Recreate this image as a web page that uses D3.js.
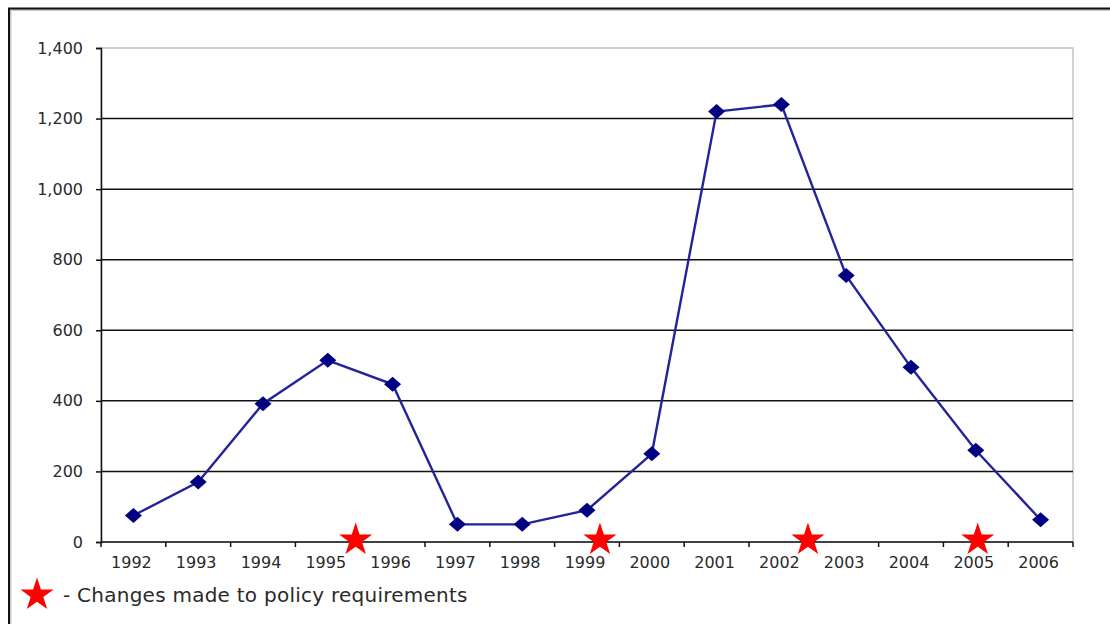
<!DOCTYPE html>
<html>
<head>
<meta charset="utf-8">
<script src="https://cdn.jsdelivr.net/npm/d3@7"></script>
<style>
  html, body { margin: 0; padding: 0; background: #fff; }
  svg { display: block; }
  text { font-family: "DejaVu Sans", Verdana, sans-serif; fill: #2a2a2a; }
</style>
</head>
<body>
<svg id="chart" width="1110" height="624"></svg>
<script>
// Yearly counts
const years = ["1992","1993","1994","1995","1996","1997","1998","1999","2000","2001","2002","2003","2004","2005","2006"];
const counts = [75, 170, 392, 515, 447, 50, 50, 90, 250, 1220, 1240, 755, 495, 260, 63];

// Policy requirement changes (fractional year)
const policyChanges = [1995.43, 1999.2, 2002.41, 2005.03];

// Value axis ticks
const yTicks = [0, 200, 400, 600, 800, 1000, 1200, 1400];

const legendText = "- Changes made to policy requirements";

const svg = d3.select("#chart");
const plot = { left: 101, right: 1073, top: 48, bottom: 542 };

// Outer frame (top and left edges visible)
svg.append("path")
  .attr("d", "M9,624 V8.5 H1110")
  .attr("fill", "none")
  .attr("stroke", "#c8c8c8")
  .attr("stroke-width", 3)
  .attr("transform", "translate(1,1)");
svg.append("path")
  .attr("d", "M9,624 V8.5 H1110")
  .attr("fill", "none")
  .attr("stroke", "#111")
  .attr("stroke-width", 2);

const x = d3.scaleBand().domain(years).range([plot.left, plot.right]).padding(0);
const xYear = d3.scaleLinear()
  .domain([+years[0] - 0.5, +years[years.length - 1] + 0.5])
  .range([plot.left, plot.right]);
const y = d3.scaleLinear().domain([0, 1400]).range([plot.bottom, plot.top]);

// Plot area border (grey)
svg.append("rect")
  .attr("x", plot.left).attr("y", plot.top)
  .attr("width", plot.right - plot.left).attr("height", plot.bottom - plot.top)
  .attr("fill", "none").attr("stroke", "#c4c4c4").attr("stroke-width", 1.5);

// Horizontal gridlines
svg.append("g").selectAll("line")
  .data(yTicks.filter(d => d > 0 && d < 1400))
  .join("line")
  .attr("x1", plot.left).attr("x2", plot.right)
  .attr("y1", d => y(d)).attr("y2", d => y(d))
  .attr("stroke", "#111").attr("stroke-width", 1.5);

// Y axis
const yAxis = svg.append("g")
  .attr("transform", `translate(${plot.left},0)`)
  .call(d3.axisLeft(y).tickValues(yTicks).tickSize(5).tickPadding(13)
    .tickFormat(d3.format(",")));
yAxis.select(".domain").attr("stroke", "#111").attr("stroke-width", 1.5);
yAxis.selectAll(".tick line").attr("stroke", "#111").attr("stroke-width", 1.5);
yAxis.selectAll("text").style("font-size", "16px").attr("fill", "#2a2a2a");

// X axis: ticks on category boundaries, labels centred
const xAxisG = svg.append("g").attr("transform", `translate(0,${plot.bottom})`);
xAxisG.append("line")
  .attr("x1", plot.left).attr("x2", plot.right)
  .attr("stroke", "#111").attr("stroke-width", 1.5);
const boundaries = years.map(d => x(d)).concat([plot.right]);
xAxisG.selectAll(".xt").data(boundaries).join("line")
  .attr("class", "xt")
  .attr("x1", d => d).attr("x2", d => d)
  .attr("y1", 0).attr("y2", 5)
  .attr("stroke", "#111").attr("stroke-width", 1.5);
xAxisG.selectAll(".xl").data(years).join("text")
  .attr("class", "xl")
  .attr("x", d => x(d) + x.bandwidth() / 2 - 2)
  .attr("y", 26)
  .attr("text-anchor", "middle")
  .style("font-size", "16px")
  .text(d => d);

// Series line
const line = d3.line()
  .x((d, i) => x(years[i]) + x.bandwidth() / 2)
  .y(d => y(d));
svg.append("path")
  .datum(counts)
  .attr("d", line)
  .attr("fill", "none")
  .attr("stroke", "#23239a")
  .attr("stroke-width", 2.4);

// Diamond markers
const diamond = "M0,-7.5 L8.5,0 L0,7.5 L-8.5,0 Z";
svg.append("g").selectAll("path")
  .data(counts)
  .join("path")
  .attr("d", diamond)
  .attr("transform", (d, i) => `translate(${x(years[i]) + x.bandwidth() / 2},${y(d)})`)
  .attr("fill", "#000080");

// Star shape
const starPath = d3.symbol().type(d3.symbolStar).size(340)();

svg.append("g").selectAll("path")
  .data(policyChanges)
  .join("path")
  .attr("d", starPath)
  .attr("transform", d => `translate(${xYear(d)},${plot.bottom - 2})`)
  .attr("fill", "#ff0000");

// Legend
svg.append("path")
  .attr("d", starPath)
  .attr("transform", "translate(37,595)")
  .attr("fill", "#ff0000");
svg.append("text")
  .attr("x", 63).attr("y", 602)
  .style("font-size", "20px")
  .style("letter-spacing", "0.25px")
  .text(legendText);
</script>
</body>
</html>
